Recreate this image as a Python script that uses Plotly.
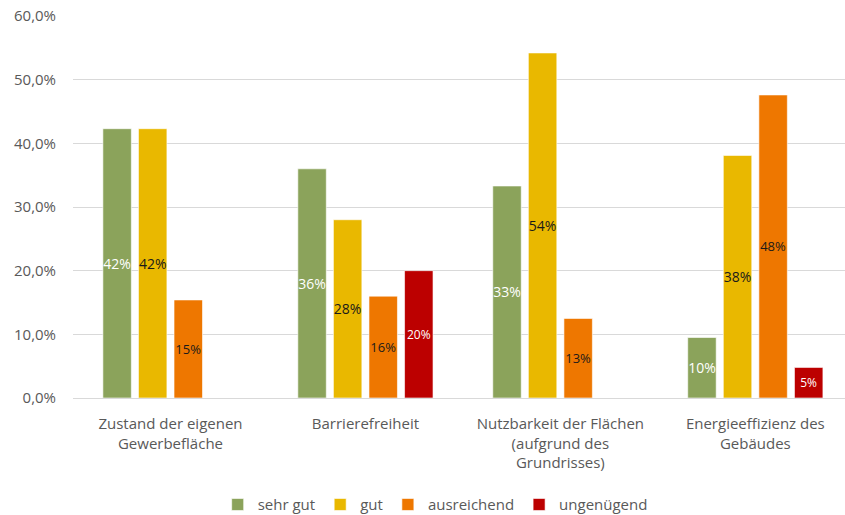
import plotly.graph_objects as go

categories = ["Zustand der eigenen<br>Gewerbefläche", "Barrierefreiheit",
              "Nutzbarkeit der Flächen<br>(aufgrund des<br>Grundrisses)",
              "Energieeffizienz des<br>Gebäudes"]
sehr_gut = [42.3, 36.0, 33.3, 9.5]
gut = [42.3, 28.0, 54.2, 38.1]
ausreichend = [15.4, 16.0, 12.5, 47.6]
ungenuegend = [None, 20.0, None, 4.8]

series = [
    ("sehr gut", sehr_gut, "#8BA35B", "white", 14),
    ("gut", gut, "#E9B800", "#1a1a1a", 14),
    ("ausreichend", ausreichend, "#EE7700", "#1a1a1a", 13),
    ("ungenügend", ungenuegend, "#BC0000", "white", 12),
]

fig = go.Figure()
for name, vals, color, tcol, tsize in series:
    fig.add_trace(go.Bar(
        name=name, x=categories, y=vals,
        marker=dict(color=color, line=dict(color="rgba(255,255,255,0.6)", width=1)),
        text=[f"{int(v + 0.5):d}%" if v is not None else "" for v in vals],
        textposition="inside", insidetextanchor="middle", constraintext="none",
        insidetextfont=dict(color=tcol, size=tsize, family="Open Sans"),
        textangle=0, cliponaxis=False,
    ))

fig.update_layout(
    width=845, height=515,
    margin=dict(l=73, r=0, t=16, b=117),
    paper_bgcolor="white", plot_bgcolor="white",
    barmode="group", bargap=0.27, bargroupgap=0.2,
    font=dict(family="Open Sans", color="#595959", size=15),
    showlegend=True,
    legend=dict(orientation="h", xref="container", yref="container",
                x=0.515, xanchor="center", y=0.052, yanchor="top",
                font=dict(size=15, color="#595959"), itemwidth=30,
                traceorder="normal"),
)
fig.update_xaxes(range=[-0.5, 3.46], showgrid=False, showline=True,
                 linecolor="#D9D9D9", linewidth=1, ticks="", tickfont=dict(size=15, color="#595959"),
                 ticklabelstandoff=12)
fig.update_yaxes(range=[0, 60], dtick=10, tickformat=".1f", ticksuffix="%",
                 showgrid=True, gridcolor="#D9D9D9", gridwidth=1, zeroline=False,
                 showline=False, tickfont=dict(size=15, color="#595959"),
                 ticklabelstandoff=16)
fig.update_layout(separators=",.")

fig.write_html("out.html")
